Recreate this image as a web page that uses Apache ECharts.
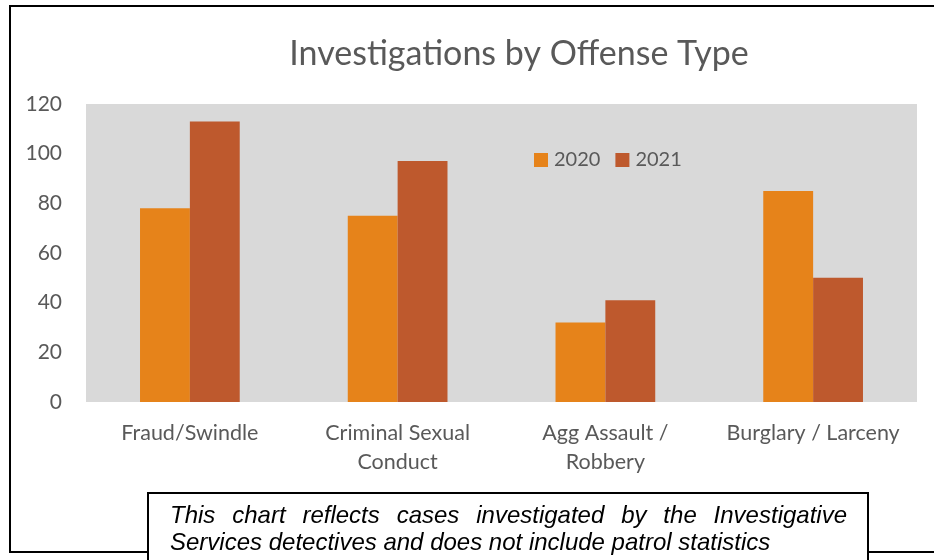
<!DOCTYPE html>
<html>
<head>
<meta charset="utf-8">
<script src="https://cdn.jsdelivr.net/npm/echarts@6/dist/echarts.min.js"></script>
<style>
  html, body { margin: 0; padding: 0; background: #fff; }
  #chart { width: 934px; height: 560px; }
</style>
</head>
<body>
<div id="chart"></div>
<script>
const categories = ['Fraud/Swindle', 'Criminal Sexual\nConduct', 'Agg Assault /\nRobbery', 'Burglary / Larceny']
const years = ['2020', '2021']
const values2020 = [78, 75, 32, 85]
const values2021 = [113, 97, 41, 50]
const yTicks = { min: 0, max: 120, interval: 20 }

// note box text, first line is justified in the original
const noteLine1 = ['This', 'chart', 'reflects', 'cases', 'investigated', 'by', 'the', 'Investigative']
const noteLine2 = 'Services detectives and does not include patrol statistics'

const labelFont = 'Lato, "Open Sans", sans-serif'
const grey = '#595959'
const noteFont = 'italic 24px "Liberation Sans", Arial, sans-serif'

// spread the first line's words between the box margins
function justify(words, x0, x1) {
  const ctx = document.createElement('canvas').getContext('2d')
  ctx.font = noteFont
  const widths = words.map(w => ctx.measureText(w).width)
  const gap = (x1 - x0 - widths.reduce((a, b) => a + b, 0)) / (words.length - 1)
  let x = x0
  return widths.map(w => { const p = x; x += w + gap; return p })
}
const noteLine1X = justify(noteLine1, 170, 847)

const chart = echarts.init(document.getElementById('chart'))

chart.setOption({
  animation: false,
  title: {
    text: 'Investigations by Offense Type',
    left: 514,
    textAlign: 'center',
    top: 32,
    textStyle: { color: grey, fontSize: 34, fontWeight: 'normal', fontFamily: labelFont }
  },
  legend: {
    left: 534,
    top: 150,
    padding: 0,
    itemWidth: 14,
    itemHeight: 14,
    itemGap: 15,
    icon: 'rect',
    textStyle: { color: grey, fontSize: 20, fontFamily: labelFont, padding: [0, 0, 0, 1] }
  },
  grid: {
    left: 86, right: 17, top: 104, bottom: 158,
    show: true, backgroundColor: '#D9D9D9', borderWidth: 0
  },
  xAxis: {
    type: 'category',
    data: categories,
    axisLine: { show: false },
    axisTick: { show: false },
    axisLabel: { color: grey, fontSize: 21.5, fontFamily: labelFont, margin: 17, lineHeight: 29, interval: 0 }
  },
  yAxis: {
    type: 'value',
    min: yTicks.min,
    max: yTicks.max,
    interval: yTicks.interval,
    axisLine: { show: false },
    axisTick: { show: false },
    splitLine: { show: false },
    axisLabel: { color: grey, fontSize: 21, fontFamily: labelFont, margin: 24 }
  },
  series: [
    { name: years[0], type: 'bar', data: values2020, barGap: 0, barCategoryGap: '52%', itemStyle: { color: '#E6831A' } },
    { name: years[1], type: 'bar', data: values2021, itemStyle: { color: '#BE592D' } }
  ],
  graphic: [
    { type: 'rect', z: 10, silent: true, shape: { x: 10, y: 6, width: 1000, height: 546 },
      style: { fill: 'none', stroke: '#000', lineWidth: 2 } },
    { type: 'rect', z: 20, silent: true, shape: { x: 148, y: 493, width: 720, height: 100 },
      style: { fill: '#fff', stroke: '#000', lineWidth: 2 } },
    ...noteLine1.map((w, i) => ({
      type: 'text', z: 21, silent: true, x: noteLine1X[i], y: 504,
      style: { text: w, font: noteFont, fill: '#000' }
    })),
    { type: 'text', z: 21, silent: true, x: 170, y: 531,
      style: { text: noteLine2, font: noteFont, fill: '#000' } }
  ]
})
</script>
</body>
</html>
